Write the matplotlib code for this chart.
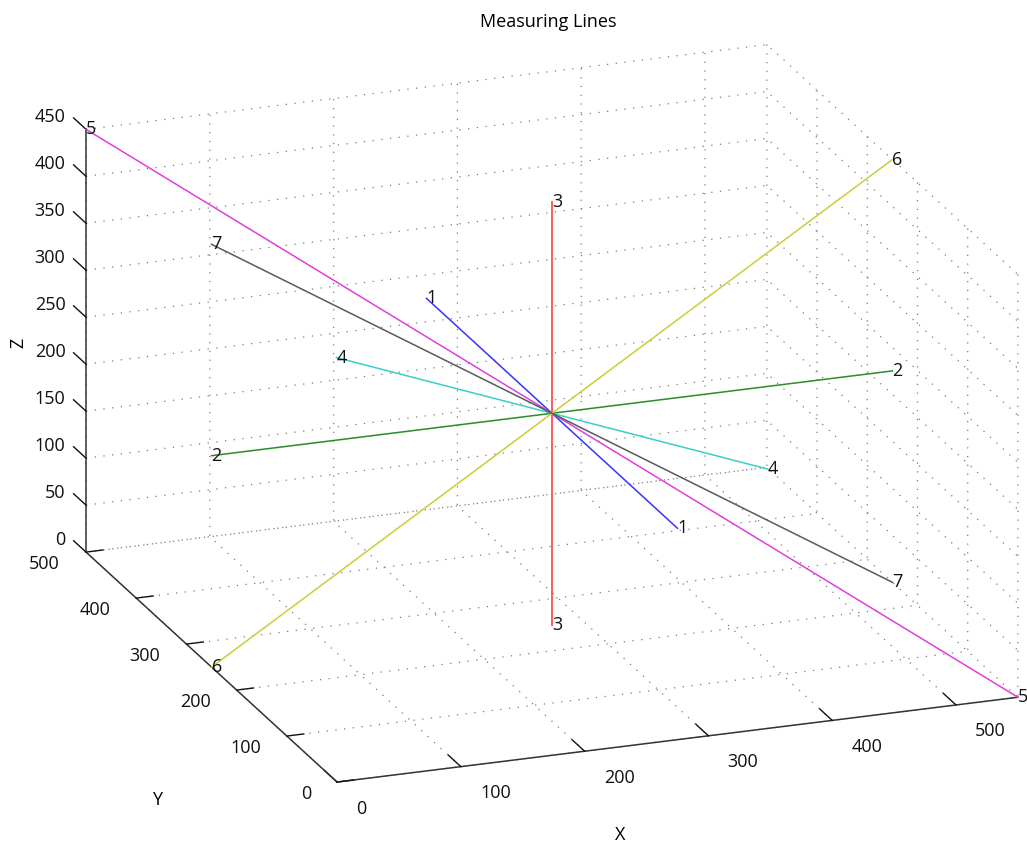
import matplotlib
matplotlib.use("Agg")
import matplotlib.pyplot as plt

plt.rcParams['font.family'] = ['Open Sans', 'DejaVu Sans']
plt.rcParams['grid.color'] = '#7a7a7a'
plt.rcParams['grid.linestyle'] = (0, (1, 6))
plt.rcParams['grid.linewidth'] = 0.9

# measuring lines: start / end point of every line
line_ids = ['1', '2', '3', '4', '5', '6', '7']
x_start = [275, 0, 275, 165, 0, 0, 0]
y_start = [500, 250, 250, 408, 500, 250, 250]
z_start = [225, 225, 450, 225, 450, 0, 450]
x_end = [275, 550, 275, 385, 550, 550, 550]
y_end = [0, 250, 250, 92, 0, 250, 250]
z_end = [225, 225, 0, 225, 0, 450, 0]
line_colors = ['#3535ff', '#2a8c2a', '#ff5a5a', '#3ccccc', '#dd40dd', '#cccc3a', '#5a5a5a']
line_widths = [1.1, 1.1, 1.4, 1.1, 1.1, 1.1, 1.1]

x_ticks = [0, 100, 200, 300, 400, 500]
y_ticks = [0, 100, 200, 300, 400, 500]
z_ticks = [0, 50, 100, 150, 200, 250, 300, 350, 400, 450]

fig = plt.figure(figsize=(10.27, 8.43), dpi=100)
ax = fig.add_axes([-0.0063, -0.1527, 1.0589, 1.2900], projection='3d')
ax.set_proj_type('ortho')
ax.view_init(elev=19.74, azim=-110.24)
ax.set_box_aspect((1, 1, 0.619))

for i in range(len(line_ids)):
    ax.plot([x_start[i], x_end[i]], [y_start[i], y_end[i]], [z_start[i], z_end[i]],
            color=line_colors[i], lw=line_widths[i])
    ax.text(x_start[i], y_start[i], z_start[i], line_ids[i], ha='left', va='center',
            fontsize=13, color='#111111')
    ax.text(x_end[i], y_end[i], z_end[i], line_ids[i], ha='left', va='center',
            fontsize=13, color='#111111')

ax.set_xlim(0, 550)
ax.set_ylim(0, 500)
ax.set_zlim(0, 450)
ax.set_xticks(x_ticks)
ax.set_yticks(y_ticks)
ax.set_zticks(z_ticks)

tick_out = {'x': 0.62, 'y': 0.31, 'z': 0.62}
for name, axis in zip('xyz', (ax.xaxis, ax.yaxis, ax.zaxis)):
    axis.set_pane_color((1, 1, 1, 0))
    axis.pane.set_edgecolor('none')
    axis.line.set_color('#333333')
    axis.line.set_linewidth(1.1)
    axis._axinfo['tick']['inward_factor'] = 0.0
    axis._axinfo['tick']['outward_factor'] = tick_out[name]
    axis._axinfo['tick']['color'] = '#333333'
    axis._axinfo['tick']['linewidth'] = {True: 1.0, False: 0.8}

# MATLAB style: z ticks point back along y, labels pushed out like MATLAB
ax.zaxis._get_tickdir = lambda position: 1
ax.xaxis._axmask = lambda: [False, True, False]
ax.yaxis._axmask = lambda: [True, False, False]
ax.zaxis._axmask = lambda: [True, True, False]

ax.tick_params(axis='both', labelsize=13, colors='#111111')
ax.xaxis.set_tick_params(pad=23)
ax.yaxis.set_tick_params(pad=7.6)
ax.zaxis.set_tick_params(pad=1.0)

fig.text(548 / 1027, 1 - 22 / 843, 'Measuring Lines', ha='center', va='center', fontsize=13)
fig.text(620 / 1027, 1 - 835 / 843, 'X', ha='center', va='center', fontsize=13)
fig.text(157 / 1027, 1 - 800 / 843, 'Y', ha='center', va='center', fontsize=13)
fig.text(18 / 1027, 1 - 343 / 843, 'Z', ha='center', va='center', fontsize=13, rotation=90)

fig.canvas.draw()
for t in ax.xaxis.get_major_ticks():
    t.label1.set_ha('left')
    t.label1.set_va('top')
for t in ax.yaxis.get_major_ticks():
    t.label1.set_ha('right')
    t.label1.set_va('top')
for t in ax.zaxis.get_major_ticks():
    t.label1.set_ha('right')
    t.label1.set_va('bottom')

fig.savefig("out.png")
